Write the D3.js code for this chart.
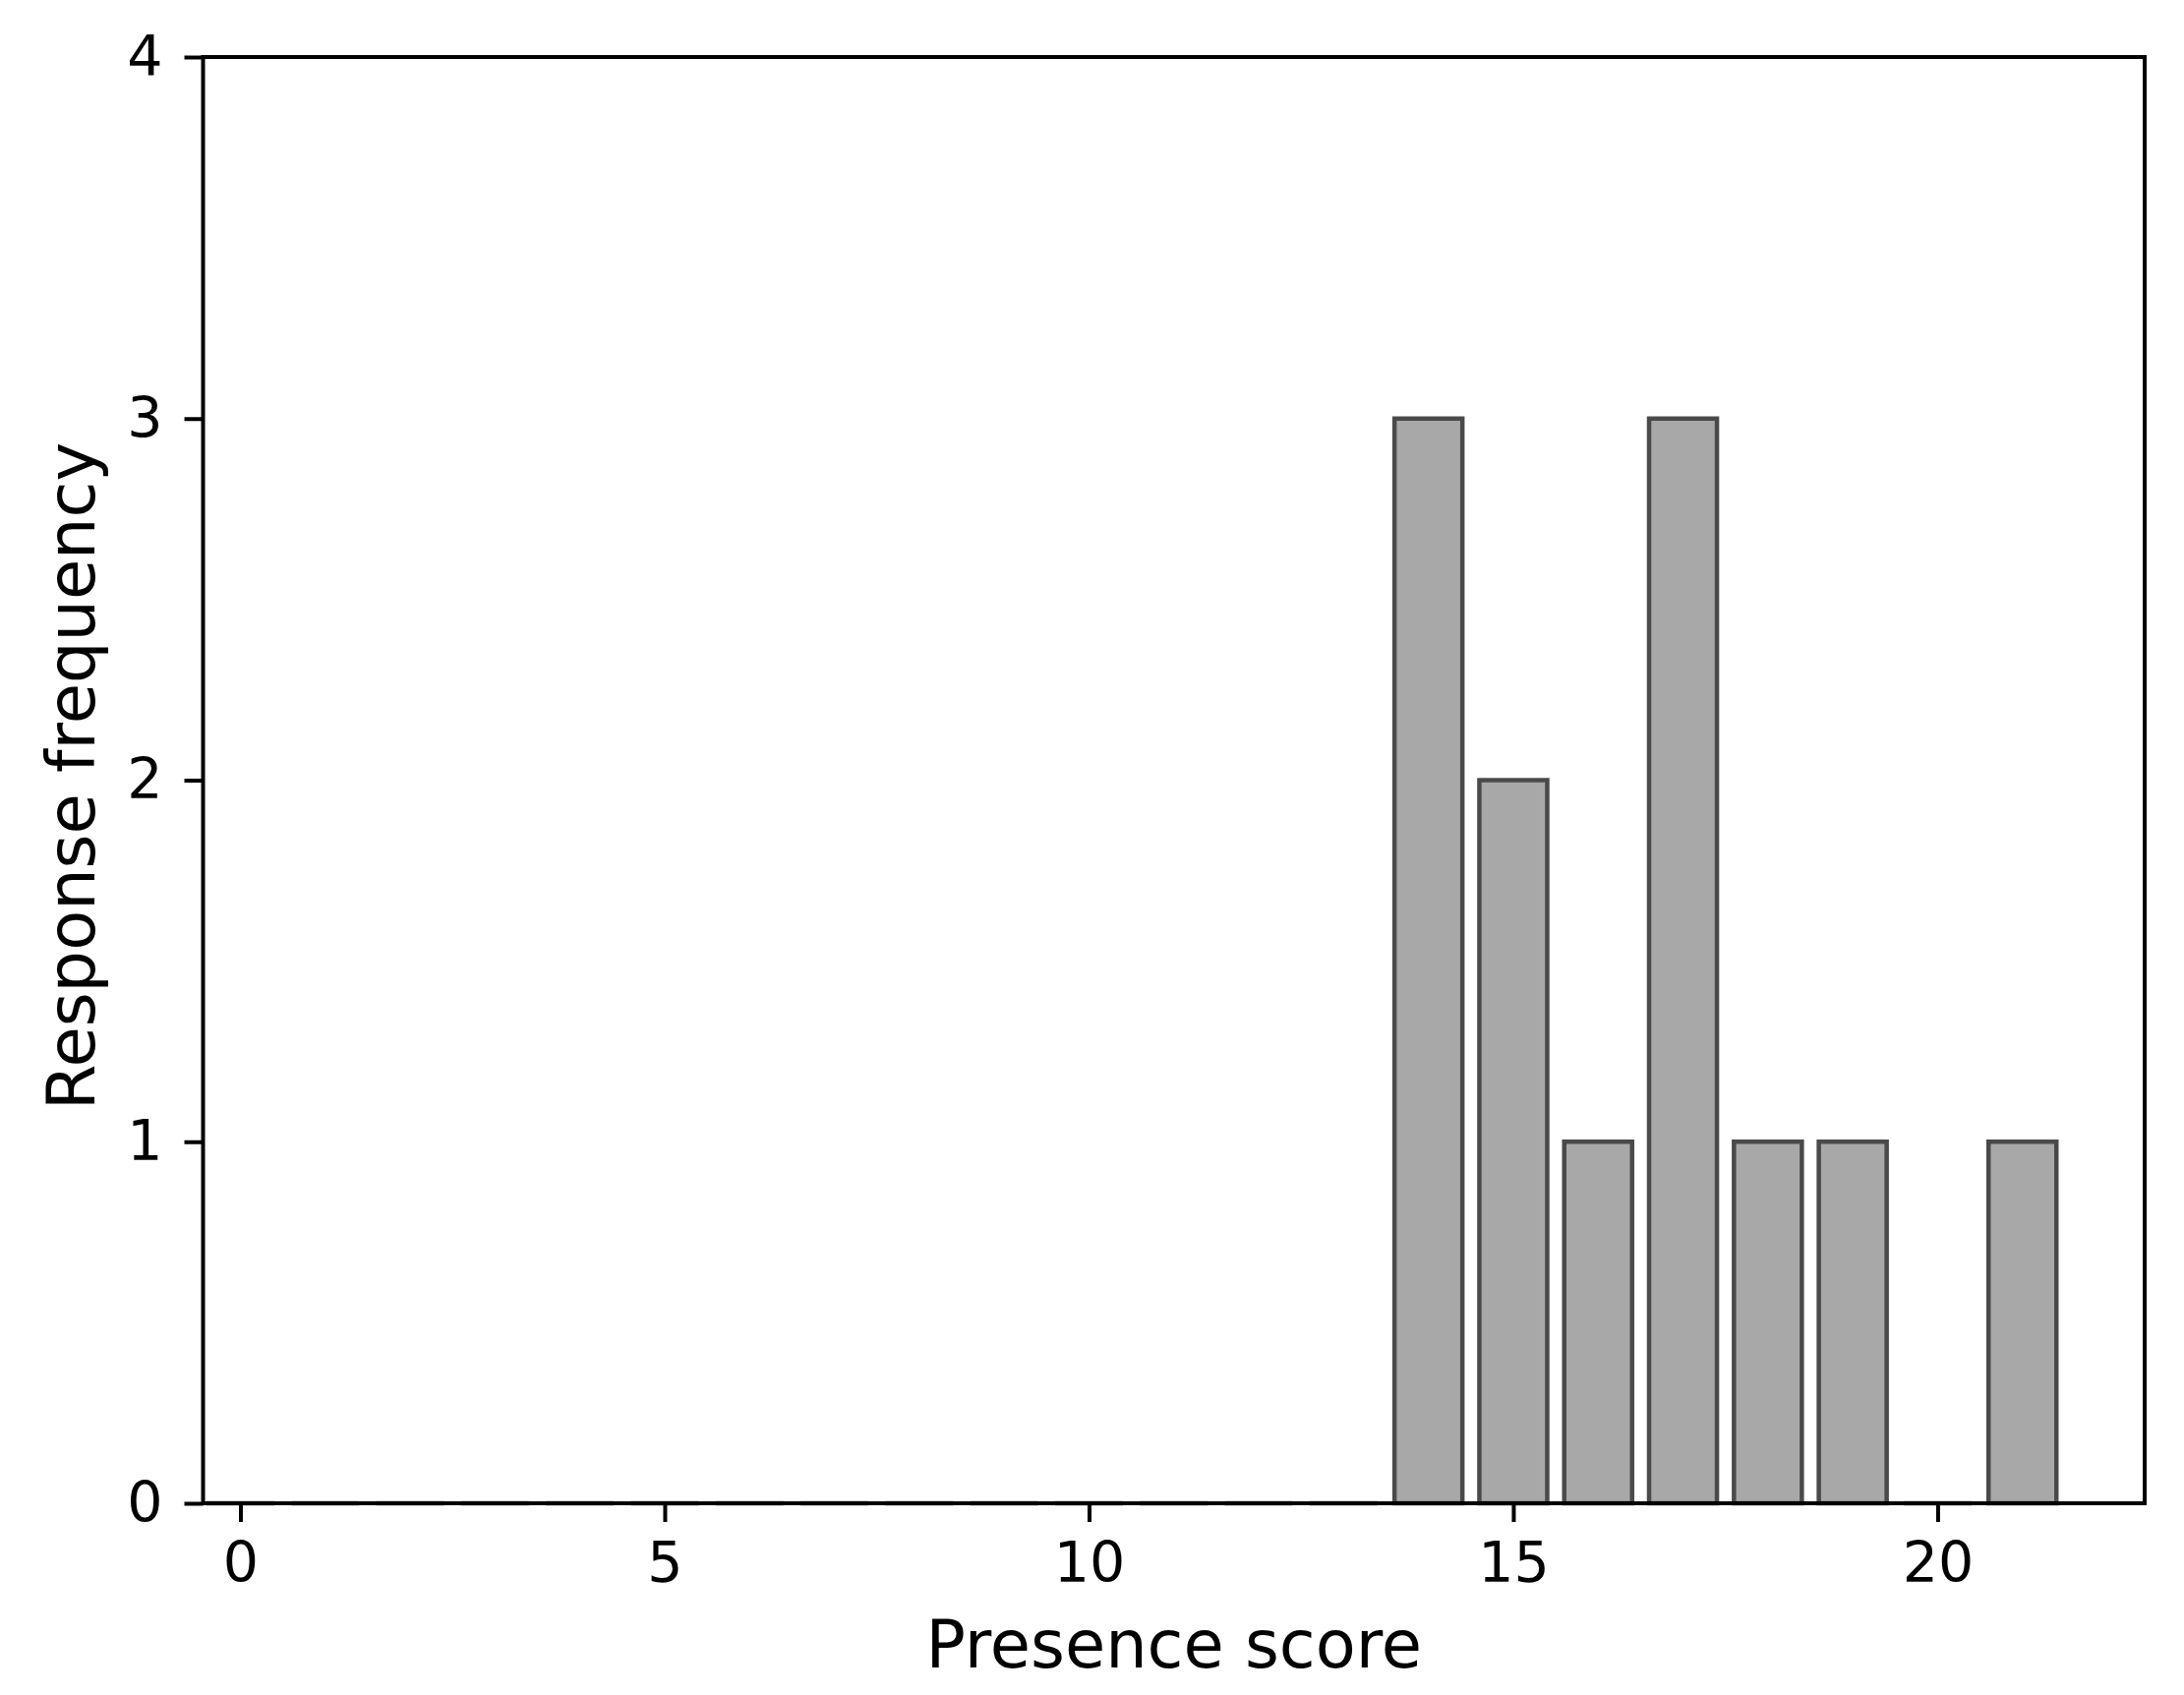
<!DOCTYPE html>
<html lang="en">
<head>
  <meta charset="UTF-8">
  <title>Presence score histogram</title>
  <script src="https://cdnjs.cloudflare.com/ajax/libs/d3/7.8.5/d3.min.js"></script>
  <style>
    body { margin:0; background:#fff; }
    svg { display:block; }
    text { font-family:"DejaVu Sans", sans-serif; fill:#000; }
  </style>
</head>
<body>
  <div id="chart"></div>
  <script>
    // presence score -> how many responses got that score
    var scores = [0,1,2,3,4,5,6,7,8,9,10,11,12,13,14,15,16,17,18,19,20,21]
    var counts = [0,0,0,0,0,0,0,0,0,0,0,0,0,0,3,2,1,3,1,1,0,1]
    var xTickValues = [0,5,10,15,20]
    var yTickValues = [0,1,2,3,4]
    var xLabel = "Presence score"
    var yLabel = "Response frequency"

    var svgWidth = 2221, svgHeight = 1724
    var margin = { top:58, right:40, bottom:195, left:206.5 }
    var chartWidth = svgWidth - margin.left - margin.right
    var chartHeight = svgHeight - margin.top - margin.bottom

    var svg = d3.select("#chart").append("svg")
                .attr("width", svgWidth)
                .attr("height", svgHeight)

    var chartArea = svg.append("g")
                       .attr("transform", `translate(${margin.left},${margin.top})`)

    var xScale = d3.scaleLinear().domain([-0.44, 22.44]).range([0, chartWidth])
    var yScale = d3.scaleLinear().domain([0, 4]).range([chartHeight, 0])
    var barWidth = 0.8

    // bars as paths so the zero ones still leave their outline on the baseline
    chartArea.selectAll(".bar")
      .data(scores)
      .enter()
      .append("path")
      .attr("class", "bar")
      .attr("d", function(s, i) {
        var x0 = xScale(s - barWidth / 2), x1 = xScale(s + barWidth / 2)
        var y0 = yScale(0), y1 = yScale(counts[i])
        return `M${x0},${y0}V${y1}H${x1}V${y0}Z`
      })
      .attr("fill", "#a8a8a8")
      .attr("stroke", "#4a4a4a")
      .attr("stroke-width", 4.5)

    var xAxis = d3.axisBottom(xScale).tickValues(xTickValues).tickSize(19).tickPadding(21)
    var yAxis = d3.axisLeft(yScale).tickValues(yTickValues).tickFormat(d3.format("d")).tickSize(19).tickPadding(22)

    var xAxisGroup = chartArea.append("g")
                       .attr("transform", `translate(0,${chartHeight})`)
                       .call(xAxis)
    var yAxisGroup = chartArea.append("g").call(yAxis)

    ;[xAxisGroup, yAxisGroup].forEach(function(g) {
      g.select(".domain").remove()
      g.selectAll(".tick line").attr("stroke", "#000").attr("stroke-width", 4)
      g.selectAll(".tick text").style("font-size", "57px").attr("font-family", null)
    })

    // frame all round, like the usual spines
    chartArea.append("rect")
      .attr("width", chartWidth)
      .attr("height", chartHeight)
      .attr("fill", "none")
      .attr("stroke", "#000")
      .attr("stroke-width", 4)

    svg.append("text")
      .attr("x", margin.left + chartWidth / 2)
      .attr("y", 1696)
      .attr("text-anchor", "middle")
      .style("font-size", "67px")
      .text(xLabel)

    svg.append("text")
      .attr("transform", `translate(96,${margin.top + chartHeight / 2 - 4}) rotate(-90)`)
      .attr("text-anchor", "middle")
      .style("font-size", "67px")
      .text(yLabel)
  </script>
</body>
</html>
